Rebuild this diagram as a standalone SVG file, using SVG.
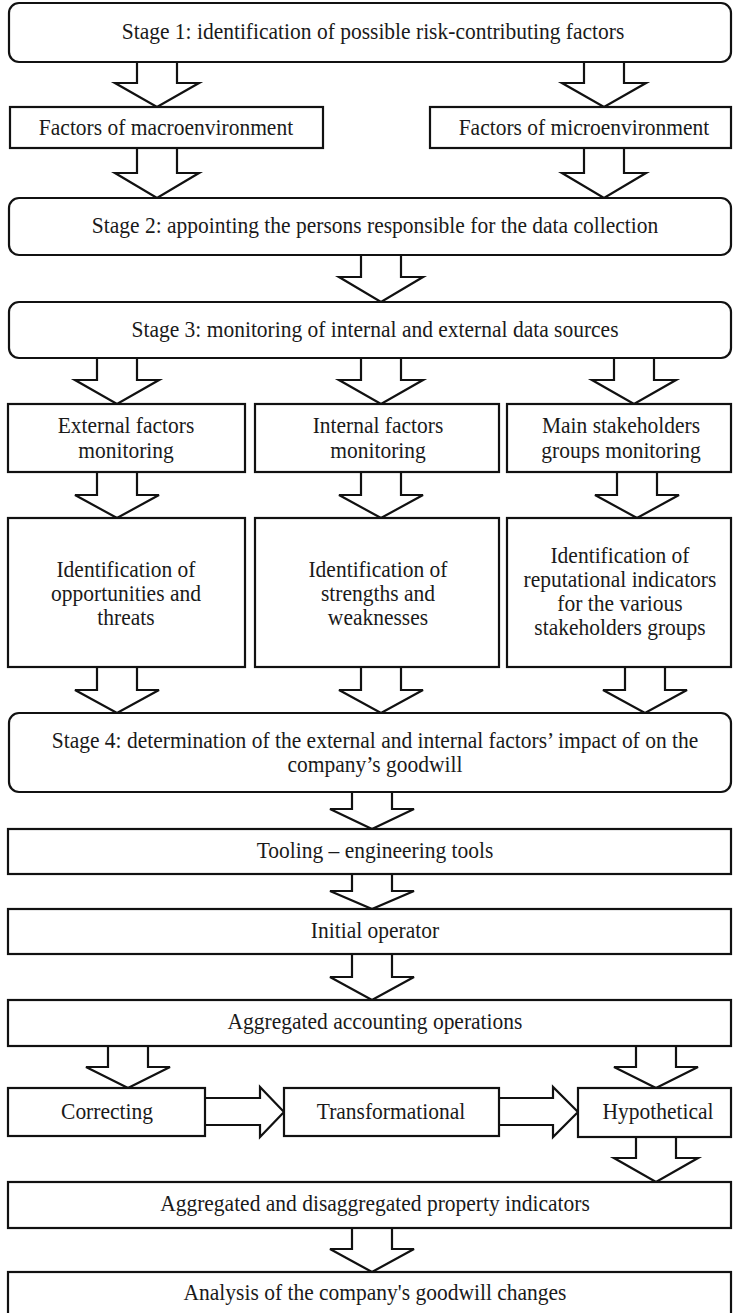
<svg xmlns="http://www.w3.org/2000/svg" width="735" height="1313" viewBox="0 0 735 1313">
<style>
.box{fill:#fff;stroke:#111;stroke-width:2.2}
.arrow{fill:#fff;stroke:#111;stroke-width:2.2;stroke-linejoin:miter}
text{font-family:"Liberation Serif","Times New Roman",serif;font-size:21.5px;fill:#1a1a1a;text-anchor:middle}
</style>
<rect width="735" height="1313" fill="#fff"/>
<g id="connectors">
<path class="arrow" d="M137,62 V83 H115 L157,107 L199,83 H177 V62"/>
<path class="arrow" d="M584,62 V83 H562 L604,107 L646,83 H624 V62"/>
<path class="arrow" d="M137,148 V173 H115 L157,198 L199,173 H177 V148"/>
<path class="arrow" d="M584,148 V173 H562 L604,198 L646,173 H624 V148"/>
<path class="arrow" d="M361,255 V277 H339 L381,302 L423,277 H401 V255"/>
<path class="arrow" d="M97,358 V380 H75 L117,404 L159,380 H137 V358"/>
<path class="arrow" d="M361,358 V380 H339 L381,404 L423,380 H401 V358"/>
<path class="arrow" d="M614,358 V380 H592 L634,404 L676,380 H654 V358"/>
<path class="arrow" d="M97,472 V495 H75 L117,518 L159,495 H137 V472"/>
<path class="arrow" d="M361,472 V495 H339 L381,518 L423,495 H401 V472"/>
<path class="arrow" d="M617,472 V495 H595 L637,518 L679,495 H657 V472"/>
<path class="arrow" d="M97,667 V690 H75 L117,713 L159,690 H137 V667"/>
<path class="arrow" d="M361,667 V690 H339 L381,713 L423,690 H401 V667"/>
<path class="arrow" d="M625,667 V690 H603 L645,713 L687,690 H665 V667"/>
<path class="arrow" d="M352,792 V809 H330 L372,829 L414,809 H392 V792"/>
<path class="arrow" d="M352,874 V891 H330 L372,909 L414,891 H392 V874"/>
<path class="arrow" d="M352,954 V977 H330 L372,1000 L414,977 H392 V954"/>
<path class="arrow" d="M108,1046 V1067 H86 L128,1088 L170,1067 H148 V1046"/>
<path class="arrow" d="M636,1046 V1067 H614 L656,1088 L698,1067 H676 V1046"/>
<path class="arrow" d="M636,1137 V1158 H614 L656,1182 L698,1158 H676 V1137"/>
<path class="arrow" d="M352,1228 V1249 H330 L372,1272 L414,1249 H392 V1228"/>
<path class="arrow" d="M205,1098 H260 V1087 L284,1112 L260,1137 V1125 H205"/>
<path class="arrow" d="M499,1098 H553 V1087 L578,1112 L553,1137 V1125 H499"/>
</g>
<g id="stage1"><rect class="box" x="9" y="3" width="722" height="59" rx="10"/><text transform="matrix(1,0,0,1.1,373,39)">Stage 1: identification of possible risk-contributing factors</text></g>
<g id="macro"><rect class="box" x="10" y="107" width="313" height="41"/><text transform="matrix(1,0,0,1.1,166,135)">Factors of macroenvironment</text></g>
<g id="micro"><rect class="box" x="430" y="107" width="301" height="41"/><text transform="matrix(1,0,0,1.1,584,135)">Factors of microenvironment</text></g>
<g id="stage2"><rect class="box" x="9" y="198" width="722" height="57" rx="10"/><text transform="matrix(1,0,0,1.1,375,233)">Stage 2: appointing the persons responsible for the data collection</text></g>
<g id="stage3"><rect class="box" x="9" y="302" width="722" height="56" rx="10"/><text transform="matrix(1,0,0,1.1,375,337)">Stage 3: monitoring of internal and external data sources</text></g>
<g id="ext"><rect class="box" x="8" y="404" width="237" height="68"/><text transform="matrix(1,0,0,1.1,126,433)">External factors</text><text transform="matrix(1,0,0,1.1,126,458)">monitoring</text></g>
<g id="int"><rect class="box" x="255" y="404" width="244" height="68"/><text transform="matrix(1,0,0,1.1,378,433)">Internal factors</text><text transform="matrix(1,0,0,1.1,378,458)">monitoring</text></g>
<g id="main"><rect class="box" x="507" y="404" width="224" height="68"/><text transform="matrix(1,0,0,1.1,621,433)">Main stakeholders</text><text transform="matrix(1,0,0,1.1,621,458)">groups monitoring</text></g>
<g id="ident1"><rect class="box" x="8" y="518" width="237" height="149"/><text transform="matrix(1,0,0,1.1,126,577)">Identification of</text><text transform="matrix(1,0,0,1.1,126,601)">opportunities and</text><text transform="matrix(1,0,0,1.1,126,625)">threats</text></g>
<g id="ident2"><rect class="box" x="255" y="518" width="244" height="149"/><text transform="matrix(1,0,0,1.1,378,577)">Identification of</text><text transform="matrix(1,0,0,1.1,378,601)">strengths and</text><text transform="matrix(1,0,0,1.1,378,625)">weaknesses</text></g>
<g id="ident3"><rect class="box" x="507" y="518" width="224" height="149"/><text transform="matrix(1,0,0,1.1,620,563)">Identification of</text><text transform="matrix(1,0,0,1.1,620,587)">reputational indicators</text><text transform="matrix(1,0,0,1.1,620,611)">for the various</text><text transform="matrix(1,0,0,1.1,620,635)">stakeholders groups</text></g>
<g id="stage4"><rect class="box" x="9" y="713" width="722" height="79" rx="10"/><text transform="matrix(1,0,0,1.1,375,748)">Stage 4: determination of the external and internal factors’ impact of on the</text><text transform="matrix(1,0,0,1.1,375,772)">company’s goodwill</text></g>
<g id="tooling"><rect class="box" x="8" y="829" width="723" height="45"/><text transform="matrix(1,0,0,1.1,375,858)">Tooling – engineering tools</text></g>
<g id="initial"><rect class="box" x="8" y="909" width="723" height="45"/><text transform="matrix(1,0,0,1.1,375,938)">Initial operator</text></g>
<g id="aggregated"><rect class="box" x="8" y="1000" width="723" height="46"/><text transform="matrix(1,0,0,1.1,375,1029)">Aggregated accounting operations</text></g>
<g id="correcting"><rect class="box" x="8" y="1088" width="197" height="48"/><text transform="matrix(1,0,0,1.1,107,1119)">Correcting</text></g>
<g id="transformational"><rect class="box" x="284" y="1088" width="215" height="48"/><text transform="matrix(1,0,0,1.1,391,1119)">Transformational</text></g>
<g id="hypothetical"><rect class="box" x="578" y="1088" width="153" height="49"/><text transform="matrix(1,0,0,1.1,658,1119)">Hypothetical</text></g>
<g id="aggdisagg"><rect class="box" x="8" y="1182" width="723" height="46"/><text transform="matrix(1,0,0,1.1,375,1211)">Aggregated and disaggregated property indicators</text></g>
<g id="analysis"><rect class="box" x="8" y="1272" width="723" height="50"/><text transform="matrix(1,0,0,1.1,375,1300)">Analysis of the company's goodwill changes</text></g>
</svg>
